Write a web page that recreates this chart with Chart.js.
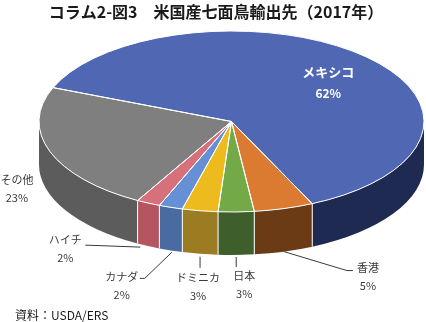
<!DOCTYPE html>
<html>
<head>
<meta charset="utf-8">
<title>米国産七面鳥輸出先</title>
<script src="https://cdn.jsdelivr.net/npm/chart.js@4.4.1/dist/chart.umd.min.js"></script>
<style>
  html, body { margin: 0; padding: 0; background: #fff; }
  #wrap { width: 426px; height: 322px; }
</style>
</head>
<body>
<div id="wrap"><canvas id="pie" width="426" height="322"></canvas></div>
<script>
// 輸出先ごとのシェア (%)
const destinations = ["メキシコ", "香港", "日本", "ドミニカ", "カナダ", "ハイチ", "その他"];
const shares = [62, 5, 3, 3, 2, 2, 23];

// top face / side wall colours
const topColors  = ["#5068b4", "#da7b31", "#74a948", "#eebb1e", "#6690d6", "#d6707b", "#7f7f7f"];
const sideColors = ["#1f2a52", "#6a3b15", "#3e5f2c", "#9c7c22", "#4a6aa2", "#b4555f", "#5c5c5c"];

// label text position relative to the slice's rim point, and leader polylines
const labelOffsets = [[-36, 16], [84, 16], [8, 21], [-2, 24], [-49, 26], [-83, -6], [-33, 28]];
const leaders = [
  null,
  [[0, 0], [63, 19], [69, 19]],
  [[0, 2], [0, 12]],
  [[0, 3], [0, 14]],
  [[1, 2], [-26, 28], [-31, 28]],
  [[-8, 1], [-63, -1]],
  null
];

const DEPTH = 43;       // thickness of the disc
const FONT = "'Noto Sans CJK JP', 'Noto Sans', sans-serif";

function geom(chart) {
  const arc = chart.getDatasetMeta(0).data[0];
  const p = arc.getProps(['x', 'y', 'outerRadius'], true);
  const sx = chart.chartArea.width / 2 / p.outerRadius;
  return { x: p.x, y: p.y, sx: sx, rx: p.outerRadius * sx, ry: p.outerRadius };
}

// parts of [a, b] lying on the near half of the ellipse (0..PI)
function frontRanges(a, b) {
  const out = [];
  for (let k = -1; k <= 2; k++) {
    const lo = Math.max(a, 2 * Math.PI * k);
    const hi = Math.min(b, 2 * Math.PI * k + Math.PI);
    if (hi > lo) out.push([lo, hi]);
  }
  return out;
}

const pie3d = {
  id: 'pie3d',
  beforeDatasetsDraw(chart) {
    const ctx = chart.ctx;
    const g = geom(chart);
    const arcs = chart.getDatasetMeta(0).data;

    // side walls
    arcs.forEach((arc, i) => {
      const p = arc.getProps(['startAngle', 'endAngle'], true);
      frontRanges(p.startAngle, p.endAngle).forEach(([a, b]) => {
        ctx.beginPath();
        ctx.ellipse(g.x, g.y, g.rx, g.ry, 0, a, b);
        ctx.ellipse(g.x, g.y + DEPTH, g.rx, g.ry, 0, b, a, true);
        ctx.closePath();
        ctx.fillStyle = sideColors[i];
        ctx.fill();
      });
    });

    // white seams between walls
    ctx.strokeStyle = '#ffffff';
    ctx.lineWidth = 1;
    arcs.forEach(arc => {
      const t = arc.getProps(['startAngle'], true).startAngle;
      if (Math.sin(t) > 0.02) {
        const px = g.x + g.rx * Math.cos(t), py = g.y + g.ry * Math.sin(t);
        ctx.beginPath();
        ctx.moveTo(px, py);
        ctx.lineTo(px, py + DEPTH);
        ctx.stroke();
      }
    });

    // stretch the round pie into the flat ellipse of the top face
    ctx.save();
    ctx.translate(g.x, g.y);
    ctx.scale(g.sx, 1);
    ctx.translate(-g.x, -g.y);
  },
  afterDatasetsDraw(chart) {
    const ctx = chart.ctx;
    ctx.restore();
    const g = geom(chart);
    // outline each top slice with an even width
    chart.getDatasetMeta(0).data.forEach(arc => {
      const p = arc.getProps(['startAngle', 'endAngle'], true);
      ctx.save();
      ctx.translate(g.x, g.y);
      ctx.scale(g.sx, 1);
      ctx.translate(-g.x, -g.y);
      ctx.beginPath();
      ctx.moveTo(g.x, g.y);
      ctx.arc(g.x, g.y, g.ry, p.startAngle, p.endAngle);
      ctx.closePath();
      ctx.restore();
      ctx.strokeStyle = '#ffffff';
      ctx.lineWidth = 1;
      ctx.stroke();
    });
  },
  afterDraw(chart) {
    const ctx = chart.ctx;
    const g = geom(chart);
    const arcs = chart.getDatasetMeta(0).data;

    ctx.save();
    ctx.textAlign = 'center';
    ctx.textBaseline = 'middle';

    // title
    ctx.fillStyle = '#1a1a1a';
    ctx.font = 'bold 16px ' + FONT;
    ctx.fillText('コラム2-図3　米国産七面鳥輸出先（2017年）', 216, 12);

    arcs.forEach((arc, i) => {
      const p = arc.getProps(['startAngle', 'endAngle'], true);
      const mid = (p.startAngle + p.endAngle) / 2;
      const onBase = leaders[i] !== null;
      const ax = g.x + g.rx * Math.cos(mid);
      const ay = g.y + g.ry * Math.sin(mid) + (onBase ? DEPTH : 0);

      if (leaders[i]) {
        ctx.strokeStyle = '#3a3a3a';
        ctx.lineWidth = 1;
        ctx.beginPath();
        leaders[i].forEach(([dx, dy], k) => {
          if (k === 0) ctx.moveTo(ax + dx, ay + dy);
          else ctx.lineTo(ax + dx, ay + dy);
        });
        ctx.stroke();
      }

      const tx = ax + labelOffsets[i][0];
      const ty = ay + labelOffsets[i][1];
      if (i === 0) {
        ctx.fillStyle = '#ffffff';
        ctx.font = 'bold 13px ' + FONT;
        ctx.fillText(destinations[i], tx, ty);
        ctx.font = 'bold 12px ' + FONT;
        ctx.fillText(shares[i] + '%', tx, ty + 21);
      } else {
        ctx.fillStyle = '#3a3a3a';
        ctx.font = '11px ' + FONT;
        ctx.fillText(destinations[i], tx, ty);
        ctx.fillText(shares[i] + '%', tx, ty + 18);
      }
    });

    // source
    ctx.textAlign = 'left';
    ctx.fillStyle = '#1a1a1a';
    ctx.font = '12px ' + FONT;
    ctx.fillText('資料：USDA/ERS', 15, 315);
    ctx.restore();
  }
};

new Chart(document.getElementById('pie'), {
  type: 'pie',
  data: {
    labels: destinations,
    datasets: [{
      data: shares,
      backgroundColor: topColors,
      borderWidth: 0,
      clip: false
    }]
  },
  options: {
    responsive: false,
    animation: false,
    events: [],
    rotation: 292,
    layout: { padding: { top: 31, bottom: 110, left: 39, right: 2 } },
    plugins: {
      legend: { display: false },
      tooltip: { enabled: false },
      title: { display: false }
    }
  },
  plugins: [pie3d]
});
</script>
</body>
</html>
